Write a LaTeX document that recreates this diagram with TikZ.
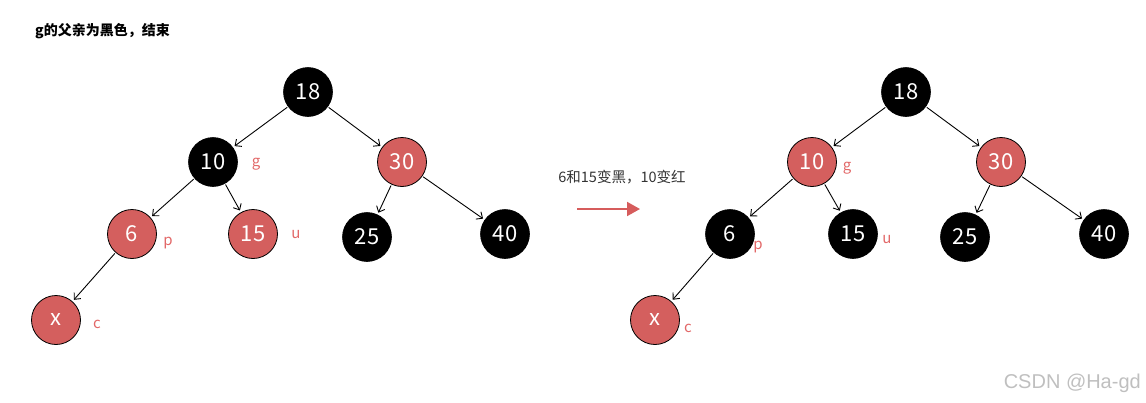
\documentclass[tikz,border=0pt]{standalone}
\usepackage{fontspec}
\setmainfont{Noto Sans CJK SC}
\newfontfamily\wmfont{Liberation Sans}
\usetikzlibrary{arrows.meta}
\definecolor{nodered}{RGB}{212,95,94}
\definecolor{labred}{RGB}{226,104,104}
\definecolor{txtgray}{RGB}{51,51,51}
\definecolor{arrred}{RGB}{214,92,92}
\begin{document}
\begin{tikzpicture}[x=1pt,y=-1pt,
  rbnode/.style={circle, minimum size=49pt, inner sep=0pt, text=white, font=\fontsize{22}{22}\selectfont},
  blknode/.style={rbnode, fill=black, draw=black, line width=0.6pt},
  rednode/.style={rbnode, fill=nodered, draw=black, line width=0.8pt},
  lab/.style={text=labred, font=\fontsize{15}{15}\selectfont},
  treeedge/.style={-{Straight Barb[length=5pt,width=9pt]}, line width=0.9pt, shorten >=2pt, shorten <=1pt}
]
\useasboundingbox (0,0) rectangle (1146,402);

% title
\node[anchor=west, inner sep=0pt, font=\fontsize{14}{14}\selectfont\bfseries] (title) at (35,31) {g的父亲为黑色，结束};

% left tree
\node[blknode] (a18) at (308,92) {18};
\node[blknode] (a10) at (213,162) {10};
\node[rednode] (a30) at (402,162) {30};
\node[rednode] (a6) at (132,234) {6};
\node[rednode] (a15) at (253,234) {15};
\node[blknode] (a25) at (367,237) {25};
\node[blknode] (a40) at (505,234) {40};
\node[rednode] (ax) at (56,320) {x};
\node[lab] (ag) at (256,164) {g};
\node[lab] (ap) at (168,243) {p};
\node[lab] (au) at (296,235) {u};
\node[lab] (ac) at (97,324) {c};
\foreach \s/\t in {a18/a10,a18/a30,a10/a6,a10/a15,a30/a25,a30/a40,a6/ax}
  \draw[treeedge] (\s) -- (\t);

% middle
\node[text=txtgray, inner sep=0pt, font=\fontsize{14.5}{14.5}\selectfont] (mid) at (622,177) {6和15变黑，10变红};
\coordinate (ms) at (577,209);
\coordinate (me) at (640,209);
\draw[arrred, line width=2pt, -{Triangle[length=13pt,width=14pt]}] (ms) -- (me);

% right tree
\node[blknode] (b18) at (906,92) {18};
\node[rednode] (b10) at (812,162) {10};
\node[rednode] (b30) at (1001,162) {30};
\node[blknode] (b6) at (730,234) {6};
\node[blknode] (b15) at (853,234) {15};
\node[blknode] (b25) at (965,237) {25};
\node[blknode] (b40) at (1104,234) {40};
\node[rednode] (bx) at (655,320) {x};
\node[lab] (bg) at (847,168) {g};
\node[lab] (bp) at (758,247) {p};
\node[lab] (bu) at (887,240) {u};
\node[lab] (bc) at (688,328) {c};
\foreach \s/\t in {b18/b10,b18/b30,b10/b6,b10/b15,b30/b25,b30/b40,b6/bx}
  \draw[treeedge] (\s) -- (\t);

% watermark
\node[anchor=east, inner sep=0pt, text=black!25, font=\wmfont\fontsize{20}{20}\selectfont] (wm) at (1141,383) {CSDN @Ha-gd};
\end{tikzpicture}
\end{document}
